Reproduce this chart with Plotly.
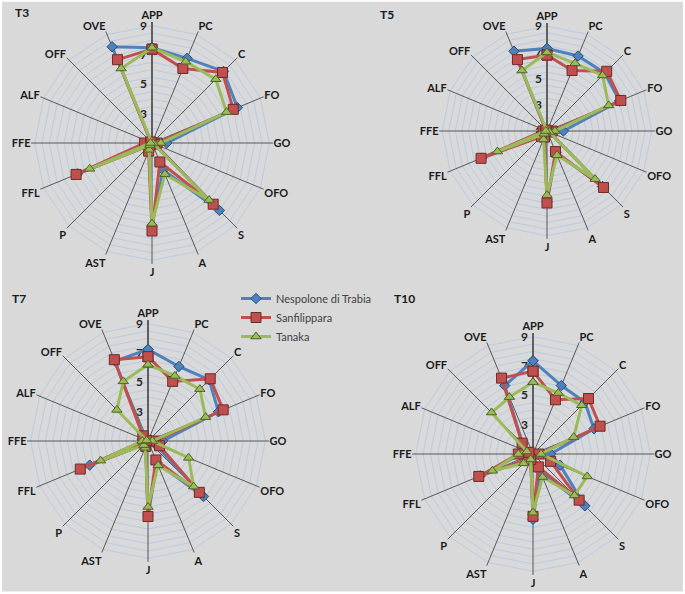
import plotly.graph_objects as go

categories = ["APP", "PC", "C", "FO", "GO", "OFO", "S", "A", "J", "AST", "P", "FFL", "FFE", "ALF", "OFF", "OVE"]
series_names = ["Nespolone di Trabia", "Sanfilippara", "Tanaka"]
panel_titles = ["T3", "T5", "T7", "T10"]

# values per panel: [Nespolone, Sanfilippara, Tanaka]
t3_nespolone = [7.5, 7.25, 7.9, 7.3, 2.0, 1.2, 7.5, 3.0, 6.6, 1.5, 1.2, 6.5, 1.3, 1.1, 1.1, 8.1]
t3_sanfilippara = [7.4, 6.5, 7.8, 7.0, 1.35, 1.2, 6.9, 2.4, 7.0, 1.6, 1.2, 6.6, 1.5, 1.1, 1.1, 7.15]
t3_tanaka = [7.5, 7.0, 7.15, 6.5, 1.6, 1.1, 6.5, 3.3, 6.5, 1.5, 1.2, 5.6, 1.1, 1.0, 1.0, 6.5]

t5_nespolone = [7.3, 7.2, 7.25, 7.0, 2.25, 1.2, 7.0, 2.8, 6.4, 1.4, 1.4, 6.4, 1.2, 1.1, 1.1, 7.6]
t5_sanfilippara = [6.8, 6.0, 7.45, 7.1, 1.4, 1.2, 7.1, 2.7, 6.5, 1.5, 1.6, 6.45, 1.3, 1.1, 1.1, 6.9]
t5_tanaka = [7.0, 6.6, 7.0, 6.1, 1.6, 1.2, 6.2, 3.0, 5.9, 1.7, 1.3, 5.1, 1.1, 1.0, 1.0, 6.0]

t7_nespolone = [7.25, 6.5, 6.9, 6.2, 2.0, 1.5, 6.35, 2.6, 6.1, 1.4, 1.3, 5.3, 1.3, 1.1, 1.4, 6.9]
t7_sanfilippara = [6.75, 5.4, 7.0, 6.55, 1.5, 1.85, 5.95, 2.4, 6.15, 1.4, 1.3, 6.0, 1.3, 1.1, 1.5, 7.0]
t7_tanaka = [6.2, 5.8, 6.0, 5.25, 1.3, 4.0, 5.4, 2.8, 5.5, 1.5, 1.4, 4.5, 1.4, 1.1, 4.0, 5.4]

t10_nespolone = [7.35, 6.05, 6.0, 5.5, 2.2, 3.0, 6.0, 2.3, 5.45, 1.4, 1.5, 4.9, 1.8, 1.3, 2.0, 6.05]
t10_sanfilippara = [6.65, 5.0, 6.35, 5.95, 1.4, 2.3, 5.45, 1.95, 5.25, 1.4, 1.5, 5.0, 2.0, 1.3, 2.05, 6.6]
t10_tanaka = [5.9, 5.5, 5.7, 4.0, 1.55, 5.0, 5.0, 2.7, 5.0, 1.4, 1.9, 4.0, 2.0, 1.45, 5.0, 5.2]

panels = [
    [t3_nespolone, t3_sanfilippara, t3_tanaka],
    [t5_nespolone, t5_sanfilippara, t5_tanaka],
    [t7_nespolone, t7_sanfilippara, t7_tanaka],
    [t10_nespolone, t10_sanfilippara, t10_tanaka],
]

R_MIN, R_MAX, SPOKE_END = 1, 9, 9.25
radial_ticks = [R_MIN + 0.5 * i for i in range(17)]
radial_text = [str(int(v)) if (v == int(v) and int(v) % 2 == 1) else "" for v in radial_ticks]

W, H = 685, 594
# panel geometry: center x, center y, outer radius (px)
geom = [(152, 143, 121), (547, 131, 108), (148, 441, 121), (533, 454, 121)]
title_pos = [(13, 12), (378, 14), (10, 298), (392, 298)]

colors = ["#4f81bd", "#c0504d", "#9bbb59"]
edge = ["#2c4d75", "#6e2a28", "#4f6228"]
symbols = ["diamond", "square", "triangle-up"]
msizes = [8, 10, 9]
FONT = "Lato, 'Open Sans', sans-serif"

fig = go.Figure()
for p, vals in enumerate(panels):
    pname = "polar" if p == 0 else f"polar{p+1}"
    # spokes (category axis lines) drawn beneath the series
    sr, st = [], []
    for c in categories:
        sr += [R_MIN, SPOKE_END, None]
        st += [c, c, None]
    fig.add_trace(go.Scatterpolar(r=sr, theta=st, mode="lines", subplot=pname,
                                  line=dict(color="#595959", width=1), hoverinfo="skip",
                                  showlegend=False, connectgaps=False, cliponaxis=False))
    for s, v in enumerate(vals):
        fig.add_trace(go.Scatterpolar(
            r=v + [v[0]],
            theta=categories + [categories[0]],
            mode="lines+markers",
            name=series_names[s],
            line=dict(color=colors[s], width=3),
            marker=dict(symbol=symbols[s], size=msizes[s], color=colors[s],
                        line=dict(color=edge[s], width=1)),
            subplot=pname,
            showlegend=(p == 0),
            cliponaxis=False,
        ))

layout = dict(
    width=W, height=H,
    margin=dict(l=0, r=0, t=0, b=0),
    paper_bgcolor="#ffffff",
    font=dict(family=FONT, color="#1a1a1a"),
    legend=dict(x=236 / W, y=1 - 284 / H, xanchor="left", yanchor="top",
                bgcolor="rgba(0,0,0,0)", font=dict(size=11, color="#404040", family=FONT),
                tracegroupgap=2, itemwidth=30),
    shapes=[dict(type="rect", xref="paper", yref="paper", x0=0.003, x1=0.997, y0=0.004, y1=0.997,
                 fillcolor="#d9d9d9", line=dict(width=0), layer="below")],
    annotations=[],
)
for p, (cx, cy, R) in enumerate(geom):
    pname = "polar" if p == 0 else f"polar{p+1}"
    layout[pname] = dict(
        domain=dict(x=[(cx - R) / W, (cx + R) / W], y=[1 - (cy + R) / H, 1 - (cy - R) / H]),
        bgcolor="rgba(0,0,0,0)",
        gridshape="linear",
        radialaxis=dict(range=[R_MIN, SPOKE_END], tickvals=radial_ticks, ticktext=radial_text,
                        angle=90, side="counterclockwise", tickangle=90, layer="below traces",
                        showline=True, linecolor="#404040", linewidth=1.5,
                        gridcolor="#b7cbe6", gridwidth=1, ticks="",
                        tickfont=dict(size=12, color="#262626", family=FONT, weight="bold")),
        angularaxis=dict(direction="clockwise", rotation=90, categoryorder="array",
                         categoryarray=categories, showline=False, ticks="", showgrid=False,
                         layer="below traces",
                         tickfont=dict(size=11, color="#1a1a1a", family=FONT, weight="bold")),
    )
for p, t in enumerate(panel_titles):
    tx, ty = title_pos[p]
    layout["annotations"].append(dict(text=f"<b>{t}</b>", x=tx / W, y=1 - ty / H, xref="paper", yref="paper",
                                      xanchor="left", yanchor="middle", showarrow=False,
                                      font=dict(size=12, color="#1a1a1a", family=FONT)))
fig.update_layout(**layout)
fig.write_html("out.html", config={"displayModeBar": False},
               post_script="document.body.style.margin='0';document.body.style.overflow='hidden';")
